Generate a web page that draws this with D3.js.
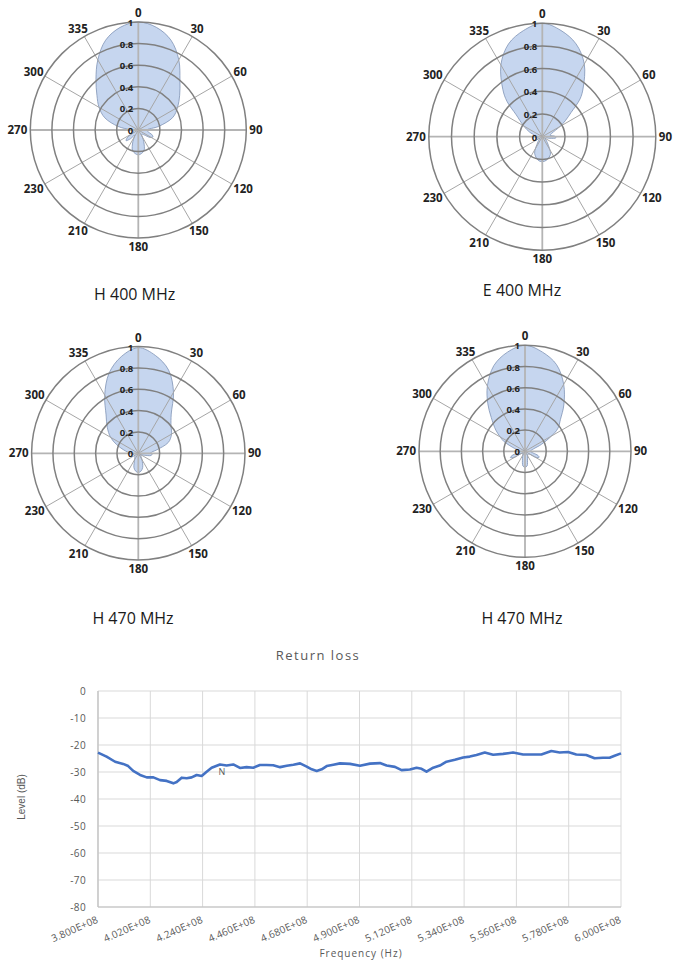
<!DOCTYPE html>
<html>
<head>
<meta charset="utf-8">
<script src="https://cdn.jsdelivr.net/npm/d3@7"></script>
<style>
  body { margin: 0; background: #fff; }
  svg { display: block; }
</style>
</head>
<body>
<div id="chart"></div>
<script>
// ---- polar patterns (angle in degrees, normalised level) ----
const angleLabels = ["0", "30", "60", "90", "120", "150", "180", "210", "230", "270", "300", "335"];
const ringTicks = [0, 0.2, 0.4, 0.6, 0.8, 1];
const ringLabels = ["0", "0.2", "0.4", "0.6", "0.8", "1"];

const h400Angles = [0, 10, 20, 30, 40, 50, 60, 70, 80, 90, 100, 108, 115, 122, 130, 140, 155, 165, 180, 195, 205, 215, 222, 229, 236, 245, 260, 272, 280, 290, 300, 310, 320, 330, 340, 350];
const h400Levels = [1.0, 0.965, 0.885, 0.75, 0.6, 0.5, 0.42, 0.34, 0.19, 0.08, 0.09, 0.13, 0.15, 0.13, 0.07, 0.05, 0.12, 0.2, 0.23, 0.2, 0.12, 0.06, 0.11, 0.15, 0.12, 0.05, 0.05, 0.08, 0.19, 0.33, 0.42, 0.5, 0.61, 0.75, 0.885, 0.965];

const e400Angles = [0, 10, 20, 30, 40, 45, 50, 55, 60, 70, 80, 88, 95, 102, 115, 140, 155, 170, 180, 190, 205, 220, 240, 260, 280, 290, 300, 310, 315, 320, 330, 340, 350];
const e400Levels = [1.0, 0.95, 0.87, 0.74, 0.56, 0.47, 0.33, 0.25, 0.18, 0.09, 0.07, 0.11, 0.12, 0.07, 0.03, 0.07, 0.17, 0.21, 0.22, 0.21, 0.16, 0.06, 0.03, 0.06, 0.07, 0.12, 0.19, 0.3, 0.44, 0.54, 0.73, 0.87, 0.95];

const h470aAngles = [0, 10, 20, 30, 40, 50, 60, 70, 80, 87, 94, 100, 108, 125, 150, 163, 172, 180, 188, 197, 210, 240, 260, 280, 292, 300, 310, 320, 330, 340, 350];
const h470aLevels = [0.99, 0.93, 0.83, 0.66, 0.48, 0.4, 0.36, 0.3, 0.17, 0.12, 0.13, 0.12, 0.06, 0.03, 0.07, 0.14, 0.17, 0.18, 0.17, 0.14, 0.07, 0.04, 0.05, 0.12, 0.22, 0.3, 0.38, 0.47, 0.63, 0.8, 0.92];

const h470bAngles = [0, 10, 20, 30, 40, 48, 55, 60, 67, 75, 90, 102, 108, 113, 119, 130, 160, 172, 180, 188, 200, 230, 241, 247, 253, 262, 275, 285, 295, 300, 306, 315, 322, 330, 340, 350];
const h470bLevels = [1.0, 0.95, 0.87, 0.73, 0.57, 0.45, 0.38, 0.29, 0.17, 0.08, 0.05, 0.08, 0.13, 0.145, 0.12, 0.04, 0.07, 0.14, 0.15, 0.14, 0.07, 0.03, 0.12, 0.15, 0.12, 0.05, 0.05, 0.1, 0.22, 0.27, 0.34, 0.45, 0.57, 0.71, 0.86, 0.95];

// ---- return loss sweep ----
const freqMHz = [380, 383.6, 387.2, 390.6, 392.7, 394.8, 397.7, 400.5, 403.3, 406.1, 408.9, 411.7, 413.1, 415.2, 417.3, 419.4, 421.5, 423.6, 425.7, 427.8, 431.3, 434.1, 436.9, 439.7, 442.5, 445.3, 448.1, 450.9, 453.7, 456.6, 459.4, 462.2, 465, 467.8, 469.9, 472, 474.1, 476.2, 479, 481.8, 486, 490.2, 494.4, 498.6, 501.4, 504.9, 507.7, 511.2, 514, 516.1, 518.2, 521, 523.8, 526.6, 530.1, 533.6, 536.4, 539.2, 542.7, 546.2, 550.4, 554.6, 558.8, 563, 566.5, 570.7, 574.2, 577.7, 581.2, 585.4, 588.9, 592.4, 595.2, 597.3, 600];
const levelDb = [-22.8, -24.3, -26.2, -27, -27.8, -29.6, -31.1, -32, -32, -33, -33.3, -34.2, -33.7, -32.1, -32.3, -32, -31.1, -31.5, -29.9, -28.4, -27.2, -27.6, -27.2, -28.5, -28.2, -28.4, -27.4, -27.4, -27.5, -28.2, -27.7, -27.3, -26.8, -28, -29, -29.6, -29, -27.8, -27.3, -26.8, -27, -27.7, -26.9, -26.7, -27.6, -28.1, -29.3, -29.1, -28.4, -28.8, -29.9, -28.4, -27.6, -26.2, -25.5, -24.6, -24.3, -23.7, -22.8, -23.6, -23.3, -22.8, -23.5, -23.5, -23.5, -22.2, -22.8, -22.6, -23.5, -23.7, -24.9, -24.7, -24.7, -24, -23.1];
const yTicks = [0, -10, -20, -30, -40, -50, -60, -70, -80];
const xTicksMHz = [380, 402, 424, 446, 468, 490, 512, 534, 556, 578, 600];

const W = 680, H = 960;
const svg = d3.select("#chart").append("svg")
    .attr("width", W)
    .attr("height", H)
    .attr("viewBox", `0 0 ${W} ${H}`);

const polars = [
    { angles: h400Angles, levels: h400Levels, caption: "H 400 MHz", cx: 138.3, cy: 130, r: 108, capX: 134.7, capY: 299.5 },
    { angles: e400Angles, levels: e400Levels, caption: "E 400 MHz", cx: 542.3, cy: 136.7, r: 113.5, capX: 522, capY: 295.5 },
    { angles: h470aAngles, levels: h470aLevels, caption: "H 470 MHz", cx: 138.3, cy: 453.3, r: 106.7, capX: 133, capY: 623.5 },
    { angles: h470bAngles, levels: h470bLevels, caption: "H 470 MHz", cx: 525, cy: 451.3, r: 106, capX: 522, capY: 623.5 }
];

function drawPolar(p) {
    let g = svg.append("g").attr("transform", `translate(${p.cx},${p.cy})`);
    let rScale = d3.scaleLinear().domain([0, 1]).range([0, p.r]);
    let pts = p.angles.map((a, i) => ({ a: a, v: p.levels[i] }));

    let radial = d3.lineRadial()
        .angle(d => d.a * Math.PI / 180)
        .radius(d => rScale(d.v))
        .curve(d3.curveCatmullRomClosed.alpha(0.5));

    g.append("path")
        .attr("d", radial(pts))
        .attr("fill", "#c6d6ef")
        .attr("stroke", "#7f93b5")
        .attr("stroke-width", 0.8);

    // spokes
    let step = 360 / angleLabels.length;
    g.selectAll("line.spoke")
        .data(angleLabels)
        .enter()
        .append("line")
        .attr("class", "spoke")
        .attr("x1", 0).attr("y1", 0)
        .attr("x2", (d, i) => Math.sin(i * step * Math.PI / 180) * p.r)
        .attr("y2", (d, i) => -Math.cos(i * step * Math.PI / 180) * p.r)
        .attr("stroke", (d, i) => (i % 3 === 0) ? "#b4b4b4" : "#a6a6a6")
        .attr("stroke-width", (d, i) => (i % 3 === 0) ? 1.8 : 1);

    // rings
    g.selectAll("circle.ring")
        .data(ringTicks.filter(t => t > 0))
        .enter()
        .append("circle")
        .attr("class", "ring")
        .attr("r", d => rScale(d))
        .attr("fill", "none")
        .attr("stroke", "#808080")
        .attr("stroke-width", 1.5);

    // ring values
    g.selectAll("text.rv")
        .data(ringTicks)
        .enter()
        .append("text")
        .attr("class", "rv")
        .attr("x", -5)
        .attr("y", d => -rScale(d) + 4)
        .attr("text-anchor", "end")
        .attr("font-family", "'Open Sans', sans-serif")
        .attr("font-weight", 700)
        .attr("font-size", 9.5)
        .attr("fill", "#222")
        .text((d, i) => ringLabels[i]);

    // angle labels
    g.selectAll("text.al")
        .data(angleLabels)
        .enter()
        .append("text")
        .attr("class", "al")
        .attr("x", (d, i) => {
            let t = i * step * Math.PI / 180;
            return Math.sin(t) * (p.r + 3) + Math.sin(t) * d.length * 3.3;
        })
        .attr("y", (d, i) => {
            let t = i * step * Math.PI / 180;
            return -Math.cos(t) * (p.r + 3) - Math.cos(t) * 6;
        })
        .attr("dy", "0.35em")
        .attr("text-anchor", "middle")
        .attr("font-family", "'Open Sans', sans-serif")
        .attr("font-weight", 700)
        .attr("font-size", 11.5)
        .attr("fill", "#222")
        .text(d => d);

    svg.append("text")
        .attr("x", p.capX)
        .attr("y", p.capY)
        .attr("text-anchor", "middle")
        .attr("font-family", "'Open Sans', sans-serif")
        .attr("font-size", 16)
        .attr("fill", "#1a1a1a")
        .text(p.caption);
}

polars.forEach(drawPolar);

// ---- return loss chart ----
const plot = { left: 98, right: 621, top: 691, bottom: 907 };
const x = d3.scaleLinear().domain([380e6, 600e6]).range([plot.left, plot.right]);
const y = d3.scaleLinear().domain([-80, 0]).range([plot.bottom, plot.top]);

function sci(v) {
    let e = Math.floor(Math.log10(v));
    let m = v / Math.pow(10, e);
    return m.toFixed(3) + "E+" + String(e).padStart(2, "0");
}

let rl = svg.append("g");

rl.selectAll("line.hg")
    .data(yTicks)
    .enter()
    .append("line")
    .attr("x1", plot.left).attr("x2", plot.right)
    .attr("y1", d => y(d)).attr("y2", d => y(d))
    .attr("stroke", "#d9d9d9")
    .attr("stroke-width", 1);

rl.selectAll("line.vg")
    .data(xTicksMHz)
    .enter()
    .append("line")
    .attr("x1", d => x(d * 1e6)).attr("x2", d => x(d * 1e6))
    .attr("y1", plot.top).attr("y2", plot.bottom)
    .attr("stroke", "#d9d9d9")
    .attr("stroke-width", 1);

// axis lines
rl.append("line")
    .attr("x1", plot.left).attr("x2", plot.left)
    .attr("y1", plot.top).attr("y2", plot.bottom)
    .attr("stroke", "#bfbfbf").attr("stroke-width", 1.2);
rl.append("line")
    .attr("x1", plot.left).attr("x2", plot.right)
    .attr("y1", plot.bottom).attr("y2", plot.bottom)
    .attr("stroke", "#bfbfbf").attr("stroke-width", 1.2);

rl.selectAll("text.yt")
    .data(yTicks)
    .enter()
    .append("text")
    .attr("x", 86)
    .attr("y", d => y(d))
    .attr("dy", "0.35em")
    .attr("text-anchor", "end")
    .attr("font-family", "'Open Sans', sans-serif")
    .attr("font-size", 10)
    .attr("letter-spacing", 0.4)
    .attr("fill", "#595959")
    .text(d => d);

rl.selectAll("text.xt")
    .data(xTicksMHz)
    .enter()
    .append("text")
    .attr("transform", d => `translate(${x(d * 1e6) + 1},${plot.bottom + 15}) rotate(-24)`)
    .attr("text-anchor", "end")
    .attr("font-family", "'Open Sans', sans-serif")
    .attr("font-size", 10)
    .attr("letter-spacing", 0.2)
    .attr("fill", "#595959")
    .text(d => sci(d * 1e6));

let sweep = d3.line()
    .x((d, i) => x(freqMHz[i] * 1e6))
    .y(d => y(d));

rl.append("path")
    .attr("d", sweep(levelDb))
    .attr("fill", "none")
    .attr("stroke", "#4472c4")
    .attr("stroke-width", 2.6)
    .attr("stroke-linejoin", "round");

rl.append("text")
    .attr("x", 222)
    .attr("y", 775)
    .attr("text-anchor", "middle")
    .attr("font-family", "'Open Sans', sans-serif")
    .attr("font-size", 9)
    .attr("fill", "#595959")
    .text("N");

rl.append("text")
    .attr("x", 318)
    .attr("y", 660)
    .attr("text-anchor", "middle")
    .attr("font-family", "'Open Sans', sans-serif")
    .attr("font-size", 13)
    .attr("letter-spacing", 1.5)
    .attr("fill", "#595959")
    .text("Return loss");

rl.append("text")
    .attr("x", 361)
    .attr("y", 957)
    .attr("text-anchor", "middle")
    .attr("font-family", "'Open Sans', sans-serif")
    .attr("font-size", 10)
    .attr("letter-spacing", 1)
    .attr("fill", "#595959")
    .text("Frequency (Hz)");

rl.append("text")
    .attr("transform", "translate(25,797) rotate(-90)")
    .attr("text-anchor", "middle")
    .attr("font-family", "'Liberation Sans Narrow', 'Arial Narrow', sans-serif")
    .attr("font-size", 10)
    .attr("fill", "#595959")
    .text("Level (dB)");
</script>
</body>
</html>
